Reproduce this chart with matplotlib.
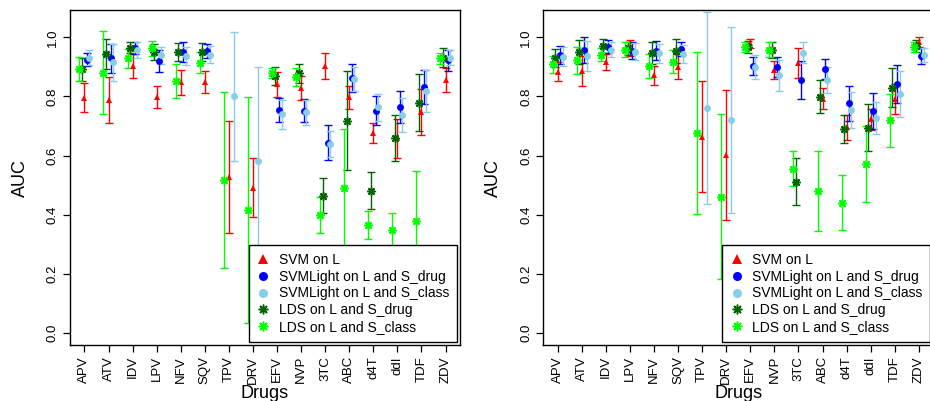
import numpy as np
import matplotlib.pyplot as plt
from matplotlib.lines import Line2D

plt.rcParams['font.family'] = ['Liberation Sans', 'DejaVu Sans']

drugs = ['APV', 'ATV', 'IDV', 'LPV', 'NFV', 'SQV', 'TPV', 'DRV',
         'EFV', 'NVP', '3TC', 'ABC', 'd4T', 'ddI', 'TDF', 'ZDV']
nan = np.nan

# ---- left panel ----
svm_a = [.796, .788, .904, .799, .848, .850, .528, .491, .841, .830, .903, .797, .677, .658, .748, .856]
svm_a_err = [.049, .078, .040, .038, .042, .037, .189, .099, .042, .041, .045, .039, .034, .067, .079, .040]
svml_drug_a = [.925, .929, .964, .921, .951, .953, nan, nan, .754, .752, .644, .862, .752, .765, .831, .923]
svml_drug_a_err = [.021, .050, .019, .038, .033, .024, nan, nan, .041, .039, .059, .048, .050, .054, .058, .036]
svml_class_a = [.932, .916, .957, .939, .937, .942, .800, .581, .739, .746, .639, .859, .763, .737, .818, .931]
svml_class_a_err = [.026, .062, .027, .030, .032, .030, .220, .320, .048, .043, .045, .040, .046, .057, .072, .025]
lds_drug_a = [.893, .944, .965, .951, .951, .950, nan, nan, .869, .878, .464, .718, .481, .658, .779, .932]
lds_drug_a_err = [.039, .051, .019, .026, .031, .031, nan, nan, .030, .032, .060, .168, .062, .078, .096, .031]
lds_class_a = [.892, .880, .929, .963, .852, .915, .517, .415, .878, .867, .398, .489, .365, .348, .379, .929]
lds_class_a_err = [.041, .141, .031, .026, .057, .036, .298, .382, .017, .031, .061, .200, .048, .057, .168, .019]

# ---- right panel ----
svm_b = [.884, .886, .918, .965, .872, .901, .664, .602, .980, .889, .914, .793, .695, .723, .790, .985]
svm_b_err = [.032, .050, .027, .028, .032, .042, .188, .219, .016, .031, .050, .037, .042, .036, .051, .017]
svml_drug_b = [.940, .957, .968, .955, .955, .960, nan, nan, .903, .901, .856, .893, .777, .751, .842, .937]
svml_drug_b_err = [.031, .044, .022, .029, .033, .024, nan, nan, .030, .034, .065, .033, .060, .060, .064, .028]
svml_class_b = [.935, .937, .959, .951, .946, .944, .760, .720, .901, .872, .949, .856, .754, .728, .807, .940]
svml_class_b_err = [.031, .050, .024, .029, .031, .029, .325, .315, .041, .052, .036, .044, .060, .054, .078, .023]
lds_drug_b = [.931, .951, .971, .963, .946, .955, nan, nan, .968, .957, .511, .799, .690, .694, .830, .971]
lds_drug_b_err = [.031, .041, .023, .022, .037, .040, nan, nan, .019, .026, .080, .056, .048, .080, .067, .021]
lds_class_b = [.909, .923, .942, .959, .903, .918, .677, .460, .968, .959, .556, .480, .440, .571, .720, .968]
lds_class_b_err = [.029, .046, .023, .025, .041, .039, .274, .279, .017, .024, .059, .136, .094, .128, .090, .017]

labels = ['SVM on L', 'SVMLight on L and S_drug', 'SVMLight on L and S_class',
          'LDS on L and S_drug', 'LDS on L and S_class']
colors = ['#ff0000', '#0000ff', '#87ceeb', '#006400', '#00ff00']
markers = ['^', 'o', 'o', (8, 2, 0), (8, 2, 0)]
offsets = [0.0, 0.1, 0.2, -0.1, -0.21]

fig = plt.figure(figsize=(9.30, 4.01), dpi=100)
W, H = 930.0, 401.0
ax1 = fig.add_axes([70 / W, 56 / H, 390 / W, 334.7 / H])
ax2 = fig.add_axes([543.3 / W, 56 / H, 390 / W, 334.7 / H])

panels = [
    (ax1, [svm_a, svml_drug_a, svml_class_a, lds_drug_a, lds_class_a],
     [svm_a_err, svml_drug_a_err, svml_class_a_err, lds_drug_a_err, lds_class_a_err]),
    (ax2, [svm_b, svml_drug_b, svml_class_b, lds_drug_b, lds_class_b],
     [svm_b_err, svml_drug_b_err, svml_class_b_err, lds_drug_b_err, lds_class_b_err]),
]

x = np.arange(1, len(drugs) + 1)
for ax, vals, errs in panels:
    for i in range(5):
        xs = x + offsets[i]
        ax.errorbar(xs, vals[i], yerr=errs[i], fmt='none', ecolor=colors[i],
                    elinewidth=1.0, capsize=2.8, capthick=1.0, zorder=2)
        if i >= 3:
            ax.plot(xs, vals[i], linestyle='none', marker=markers[i], markersize=6,
                    markeredgecolor=colors[i], markeredgewidth=1.1, zorder=3)
        else:
            ax.plot(xs, vals[i], linestyle='none', marker=markers[i], markersize=5,
                    color=colors[i], markeredgewidth=0, zorder=3)

    ax.set_xlim(0.4, 16.6)
    ax.set_ylim(-0.042, 1.092)
    ax.set_xticks(x)
    ax.set_xticklabels(drugs, rotation=90, fontsize=9.5)
    ax.set_yticks([0.0, 0.2, 0.4, 0.6, 0.8, 1.0])
    ax.set_yticklabels(['0.0', '0.2', '0.4', '0.6', '0.8', '1.0'], rotation=90,
                       va='center', fontsize=9.5)
    ax.tick_params(direction='out', length=5, width=0.9, pad=3)
    for sp in ax.spines.values():
        sp.set_linewidth(1.0)
    ax.set_ylabel('AUC', fontsize=13, labelpad=13)
    ax.set_xlabel('Drugs', fontsize=13, labelpad=1)

    handles = []
    for i in range(5):
        if i >= 3:
            h = Line2D([], [], linestyle='none', marker=markers[i], markersize=7,
                       markeredgecolor=colors[i], markeredgewidth=1.1)
        else:
            h = Line2D([], [], linestyle='none', marker=markers[i], markersize=6.5,
                       color=colors[i], markeredgewidth=0)
        handles.append(h)
    leg = ax.legend(handles, labels, loc='lower right', bbox_to_anchor=(0.9915, 0.01),
                    borderaxespad=0, fontsize=10, fancybox=False, framealpha=1,
                    edgecolor='black', handlelength=1.0, handletextpad=0.6,
                    labelspacing=0.2, borderpad=0.55)
    leg.get_frame().set_linewidth(1.0)

fig.savefig('out.png', dpi=100)
